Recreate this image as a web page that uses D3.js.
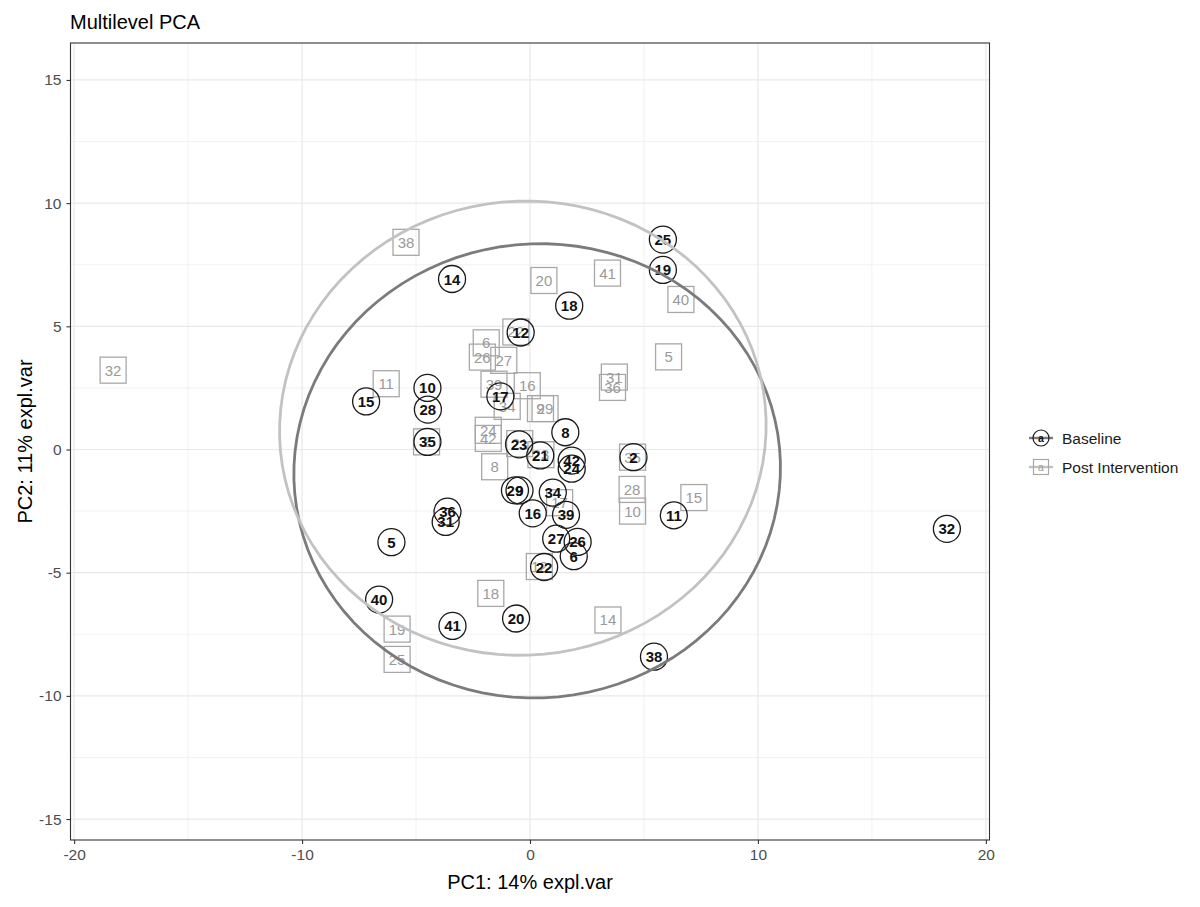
<!DOCTYPE html>
<html>
<head>
<meta charset="utf-8">
<script src="https://cdn.jsdelivr.net/npm/d3@7"></script>
<style>
  body { margin: 0; background: #fff; }
  svg { display: block; font-family: "Liberation Sans", Arial, Helvetica, sans-serif; }
</style>
</head>
<body>
<svg id="chart" width="1200" height="907"></svg>
<script>
// Subject identifiers (one score pair per subject and time point)
const subjects = [2, 5, 6, 8, 9, 10, 11, 12, 14, 15, 16, 17, 18, 19, 20, 21, 22,
                  23, 24, 25, 26, 27, 28, 29, 31, 32, 34, 35, 36, 38, 39, 40, 41, 42];

// Baseline scores on PC1 / PC2
const baselinePC1 = [4.54, -6.08, 1.92, 1.55, -0.46, -4.50, 6.31, -0.41, -3.42, -7.19, 0.12, -1.30, 1.72, 5.83, -0.61, 0.45, 0.62,
                     -0.48, 1.83, 5.83, 2.09, 1.15, -4.48, -0.66, -3.70, 18.29, 1.00, -4.50, -3.62, 5.44, 1.58, -6.62, -3.40, 1.83];
const baselinePC2 = [-0.31, -3.76, -4.33, 0.70, -1.66, 2.50, -2.67, 4.75, 6.92, 1.95, -2.59, 2.16, 5.84, 7.29, -6.86, -0.24, -4.77,
                     0.21, -0.78, 8.52, -3.75, -3.62, 1.62, -1.66, -2.94, -3.22, -1.75, 0.31, -2.52, -8.41, -2.65, -6.09, -7.16, -0.45];

// Post intervention scores on PC1 / PC2
const postPC1 = [-4.54, 6.08, -1.92, -1.55, 0.46, 4.50, -6.31, 0.41, 3.42, 7.19, -0.12, 1.30, -1.72, -5.83, 0.61, -0.45, -0.62,
                 0.48, -1.83, -5.83, -2.09, -1.15, 4.48, 0.66, 3.70, -18.29, -1.00, 4.50, 3.62, -5.44, -1.58, 6.62, 3.40, -1.83];
const postPC2 = [0.31, 3.76, 4.33, -0.70, 1.66, -2.50, 2.67, -4.75, -6.92, -1.95, 2.59, -2.16, -5.84, -7.29, 6.86, 0.24, 4.77,
                 -0.21, 0.78, -8.52, 3.75, 3.62, -1.62, 1.66, 2.94, 3.22, 1.75, -0.31, 2.52, 8.41, 2.65, 6.09, 7.16, 0.45];

const groupNames = ["Baseline", "Post Intervention"];
const xTicks = [-20, -10, 0, 10, 20];
const xMinorTicks = [-15, -5, 5, 15];
const yTicks = [-15, -10, -5, 0, 5, 10, 15];
const yMinorTicks = [-12.5, -7.5, -2.5, 2.5, 7.5, 12.5];
const ellipseLevel = 0.9;

const svg = d3.select("#chart");
const panel = { left: 70.5, right: 989.5, top: 43, bottom: 840 };

const x = d3.scaleLinear().domain([-20.16, 20.16]).range([panel.left, panel.right]);
const y = d3.scaleLinear().domain([-15.85, 16.5]).range([panel.bottom, panel.top]);

const style = {
  Baseline: { ellipse: "#7b7b7b", shape: "circle", stroke: "#1a1a1a", text: "#111", weight: "bold" },
  "Post Intervention": { ellipse: "#c2c2c2", shape: "square", stroke: "#a8a8a8", text: "#9a9a9a", weight: "normal" }
};

svg.append("rect").attr("width", 1200).attr("height", 907).attr("fill", "#fff");

// Grid lines
const grid = svg.append("g");
grid.selectAll(".vminor").data(xMinorTicks).join("line")
  .attr("x1", d => x(d)).attr("x2", d => x(d)).attr("y1", panel.top).attr("y2", panel.bottom)
  .attr("stroke", "#efefef").attr("stroke-width", 0.8);
grid.selectAll(".hminor").data(yMinorTicks).join("line")
  .attr("y1", d => y(d)).attr("y2", d => y(d)).attr("x1", panel.left).attr("x2", panel.right)
  .attr("stroke", "#efefef").attr("stroke-width", 0.8);
grid.selectAll(".vmajor").data(xTicks).join("line")
  .attr("x1", d => x(d)).attr("x2", d => x(d)).attr("y1", panel.top).attr("y2", panel.bottom)
  .attr("stroke", "#e8e8e8").attr("stroke-width", 1.2);
grid.selectAll(".hmajor").data(yTicks).join("line")
  .attr("y1", d => y(d)).attr("y2", d => y(d)).attr("x1", panel.left).attr("x2", panel.right)
  .attr("stroke", "#e8e8e8").attr("stroke-width", 1.2);

// Build per-group records
const groups = [
  { name: groupNames[0], xs: baselinePC1, ys: baselinePC2 },
  { name: groupNames[1], xs: postPC1, ys: postPC2 }
];
groups.forEach(g => {
  g.points = subjects.map((id, i) => ({ id, px: g.xs[i], py: g.ys[i] }));
});

// Confidence ellipse from the group covariance (F-based radius, 2 dims)
function ellipsePath(xs, ys, level) {
  const n = xs.length;
  const mx = d3.mean(xs), my = d3.mean(ys);
  const sx = d3.deviation(xs), sy = d3.deviation(ys);
  let cov = 0;
  for (let i = 0; i < n; i++) cov += (xs[i] - mx) * (ys[i] - my);
  cov /= (n - 1);
  const r = cov / (sx * sy);
  const nu = n - 1;
  const fq = (nu / 2) * (Math.pow(1 - level, -2 / nu) - 1);
  const t = Math.sqrt(2 * fq);
  const d = Math.acos(r);
  const pts = d3.range(0, 101).map(k => {
    const a = (k / 100) * 2 * Math.PI;
    return [mx + t * sx * Math.cos(a + d / 2), my + t * sy * Math.cos(a - d / 2)];
  });
  return d3.line().x(p => x(p[0])).y(p => y(p[1]))(pts);
}

// Point shapes
const marks = svg.append("g");
const sq = 26, cr = 13.5;
const post = groups[1], base = groups[0];

marks.selectAll(".sq").data(post.points).join("rect")
  .attr("x", d => x(d.px) - sq / 2).attr("y", d => y(d.py) - sq / 2)
  .attr("width", sq).attr("height", sq)
  .attr("fill", "none").attr("stroke", style[post.name].stroke).attr("stroke-width", 1.3);

marks.selectAll(".sqlab").data(post.points).join("text")
  .attr("x", d => x(d.px)).attr("y", d => y(d.py))
  .attr("text-anchor", "middle").attr("dominant-baseline", "central")
  .attr("font-size", 15).attr("fill", style[post.name].text)
  .text(d => d.id);

marks.selectAll(".ci").data(base.points).join("circle")
  .attr("cx", d => x(d.px)).attr("cy", d => y(d.py)).attr("r", cr)
  .attr("fill", "none").attr("stroke", style[base.name].stroke).attr("stroke-width", 1.3);

marks.selectAll(".cilab").data(base.points).join("text")
  .attr("x", d => x(d.px)).attr("y", d => y(d.py))
  .attr("text-anchor", "middle").attr("dominant-baseline", "central")
  .attr("font-size", 15).attr("font-weight", "bold").attr("fill", style[base.name].text)
  .text(d => d.id);

// Ellipses
groups.forEach(g => {
  svg.append("path").attr("d", ellipsePath(g.xs, g.ys, ellipseLevel))
    .attr("fill", "none").attr("stroke", style[g.name].ellipse).attr("stroke-width", 2.8);
});

// Panel border
svg.append("rect").attr("x", panel.left).attr("y", panel.top)
  .attr("width", panel.right - panel.left).attr("height", panel.bottom - panel.top)
  .attr("fill", "none").attr("stroke", "#333").attr("stroke-width", 1.1);

// Axes
const xAxis = svg.append("g").attr("transform", `translate(0,${panel.bottom})`)
  .call(d3.axisBottom(x).tickValues(xTicks).tickFormat(d => String(d)).tickSize(4).tickPadding(5));
const yAxis = svg.append("g").attr("transform", `translate(${panel.left},0)`)
  .call(d3.axisLeft(y).tickValues(yTicks).tickFormat(d => String(d)).tickSize(4).tickPadding(5));
[xAxis, yAxis].forEach(a => {
  a.select(".domain").remove();
  a.selectAll(".tick line").attr("stroke", "#333").attr("stroke-width", 1.1);
  a.selectAll(".tick text").attr("fill", "#4d4d4d").attr("font-size", 15.5)
    .attr("font-family", "Liberation Sans, Arial, sans-serif");
});

// Titles
svg.append("text").attr("x", 70).attr("y", 29).attr("font-size", 20).attr("fill", "#000")
  .text("Multilevel PCA");
svg.append("text").attr("x", (panel.left + panel.right) / 2).attr("y", 889)
  .attr("text-anchor", "middle").attr("font-size", 20).attr("fill", "#000")
  .text("PC1: 14% expl.var");
svg.append("text").attr("transform", `translate(32,${(panel.top + panel.bottom) / 2}) rotate(-90)`)
  .attr("text-anchor", "middle").attr("font-size", 20).attr("fill", "#000")
  .text("PC2: 11% expl.var");

// Legend
const legend = svg.append("g");
groups.forEach((g, i) => {
  const cy = 438 + i * 29, cx = 1041;
  const s = style[g.name];
  const row = legend.append("g");
  row.append("line").attr("x1", cx - 12).attr("x2", cx + 12).attr("y1", cy).attr("y2", cy)
    .attr("stroke", s.ellipse).attr("stroke-width", 2.4);
  if (s.shape === "circle") {
    row.append("circle").attr("cx", cx).attr("cy", cy).attr("r", 8)
      .attr("fill", "none").attr("stroke", s.stroke).attr("stroke-width", 1.2);
  } else {
    row.append("rect").attr("x", cx - 7.5).attr("y", cy - 7.5).attr("width", 15).attr("height", 15)
      .attr("fill", "none").attr("stroke", s.stroke).attr("stroke-width", 1.2);
  }
  row.append("text").attr("x", cx).attr("y", cy).attr("text-anchor", "middle")
    .attr("dominant-baseline", "central").attr("font-size", 10.5)
    .attr("font-weight", s.weight).attr("fill", s.text).text("a");
  row.append("text").attr("x", 1062).attr("y", cy).attr("dominant-baseline", "central")
    .attr("font-size", 15.5).attr("fill", "#1a1a1a").text(g.name);
});
</script>
</body>
</html>
